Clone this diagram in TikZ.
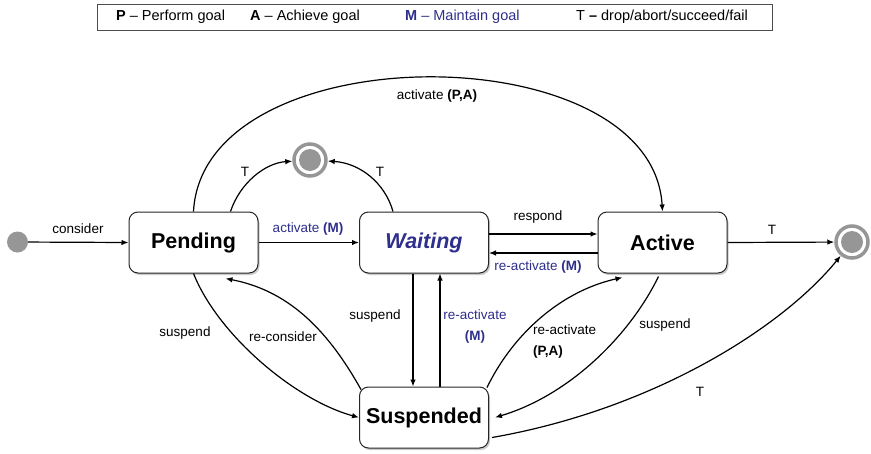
\documentclass[tikz,border=0pt]{standalone}
\usepackage{fontspec}
\setmainfont{Liberation Sans}
\usetikzlibrary{arrows.meta,shadows}
\definecolor{goalblue}{RGB}{46,46,140}
\definecolor{ringgray}{RGB}{150,150,150}
\begin{document}
\begin{tikzpicture}[x=1pt,y=-1pt,
  state/.style={draw=black!85, line width=1pt, rounded corners=9pt, fill=white,
    minimum width=129pt, minimum height=61pt, inner sep=0pt,
    font=\fontsize{21.5}{24}\selectfont\bfseries,
    drop shadow={shadow xshift=1.5pt, shadow yshift=-2pt, opacity=0.35, fill=black!60}},
  final/.style={circle, draw=ringgray, line width=3.5pt, minimum size=32pt, inner sep=0pt, fill=white,
    path picture={\fill[ringgray] (path picture bounding box.center) circle (11pt);}},
  edge/.style={line width=1.2pt, -{Latex[length=7pt,width=5.5pt]}},
  lbl/.style={font=\fontsize{13.5}{21}\selectfont, inner sep=0pt},
  leg/.style={font=\fontsize{14.5}{16}\selectfont, inner sep=0pt, anchor=west}
]
\useasboundingbox (0,0) rectangle (871,453);
% legend
\node[draw=black!70, line width=0.8pt, minimum width=675pt, minimum height=26pt, inner sep=0pt] (legend) at (434.5,17) {};
\node[leg] (l1) at (116,17) {\textbf{P} – Perform goal};
\node[leg] (l2) at (250,17) {\textbf{A} – Achieve goal};
\node[leg, text=goalblue] (l3) at (405,17) {\textbf{M} – Maintain goal};
\node[leg] (l4) at (576,17) {T \textbf{–} drop/abort/succeed/fail};
% states
\node[circle, fill=ringgray, minimum size=21pt, inner sep=0pt] (I) at (17.5,242) {};
\node[state] (P) at (193.5,242.5) {Pending};
\node[state, text=goalblue] (W) at (424,242.5) {\itshape Waiting};
\node[state] (A) at (662.5,242.5) {Active};
\node[state] (S) at (424,417.5) {Suspended};
\node[final] (F1) at (310,160) {};
\node[final] (F2) at (852,242) {};
% edges
\draw[edge] (I) -- (P.west);
\node[lbl] (lconsider) at (78,229) {consider};
\draw[edge] (P.east) -- (W.west);
\node[lbl, text=goalblue] (lactM) at (308,229) {activate \textbf{(M)}};
\draw[edge] ([yshift=8.5pt]W.east) -- ([yshift=8.5pt]A.west);
\node[lbl] (lrespond) at (538,217) {respond};
\draw[edge] ([yshift=-10.5pt]A.west) -- ([yshift=-10.5pt]W.east);
\node[lbl, text=goalblue] (lreactM) at (538,267) {re-activate \textbf{(M)}};
\draw[edge] (A.east) -- (F2);
\node[lbl] (lTA) at (772,230) {T};
% activate (P,A)
\draw[edge] (P.north) .. controls (203,33) and (652,33) .. (A.north);
\node[lbl] (lactPA) at (437,96) {activate \textbf{(P,A)}};
% T to top final
\draw[edge] ([xshift=37pt]P.north) .. controls (240,183) and (265,163) .. (F1);
\node[lbl] (lTP) at (245,172) {T};
\draw[edge] ([xshift=-31pt]W.north) .. controls (385,183) and (360,163) .. (F1);
\node[lbl] (lTW) at (380,172) {T};
% suspend P -> S
\draw[edge] (P.south) .. controls (218,335) and (295,400) .. (S.west);
\node[lbl] (lsusP) at (185,333) {suspend};
% re-consider S -> P
\draw[edge] ([xshift=2pt,yshift=-3pt]S.north west) .. controls (325,325) and (285,290) .. ([xshift=32pt,yshift=-5pt]P.south);
\node[lbl] (lrecons) at (283,337) {re-consider};
% W <-> S
\draw[edge] ([xshift=-11pt]W.south) -- ([xshift=-11pt]S.north);
\node[lbl] (lsusW) at (375,316) {suspend};
\draw[edge] ([xshift=16pt]S.north) -- ([xshift=16pt]W.south);
\node[lbl, text=goalblue, align=center] (lreactW) at (475,326.5) {re-activate\\\textbf{(M)}};
% S <-> A
\draw[edge] ([xshift=-2pt,yshift=-1pt]S.north east) .. controls (515,330) and (565,290) .. ([xshift=-40pt,yshift=-4pt]A.south);
\node[lbl, align=left, anchor=west] (lreactPA) at (533,341.5) {re-activate\\\textbf{(P,A)}};
\draw[edge] ([xshift=-4pt,yshift=-3pt]A.south) .. controls (630,335) and (570,395) .. ([xshift=6pt]S.east);
\node[lbl] (lsusA) at (665,325) {suspend};
% T S -> F2
\draw[edge] ([xshift=3pt,yshift=-20pt]S.east) .. controls (650,410) and (780,330) .. (F2);
\node[lbl] (lTS) at (700,392) {T};
\end{tikzpicture}
\end{document}
